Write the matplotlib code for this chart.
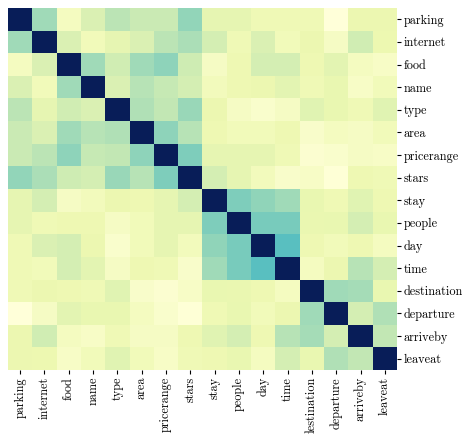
import numpy as np
import matplotlib
matplotlib.use("Agg")
import matplotlib.pyplot as plt
import seaborn as sns

# slot names (rows and columns share the same order)
slots = ['parking', 'internet', 'food', 'name', 'type', 'area', 'pricerange',
         'stars', 'stay', 'people', 'day', 'time', 'destination', 'departure',
         'arriveby', 'leaveat']

# similarity values (symmetric)
sim = np.array([
    [1.00, 0.32, 0.08, 0.19, 0.27, 0.24, 0.24, 0.34, 0.15, 0.15, 0.11, 0.11, 0.11, 0.00, 0.13, 0.13],
    [0.32, 1.00, 0.19, 0.10, 0.15, 0.19, 0.27, 0.30, 0.21, 0.11, 0.19, 0.10, 0.13, 0.07, 0.22, 0.125],
    [0.08, 0.19, 1.00, 0.32, 0.22, 0.32, 0.35, 0.23, 0.07, 0.12, 0.21, 0.21, 0.12, 0.16, 0.08, 0.06],
    [0.19, 0.10, 0.32, 1.00, 0.19, 0.28, 0.25, 0.21, 0.09, 0.12, 0.13, 0.16, 0.11, 0.14, 0.06, 0.10],
    [0.27, 0.15, 0.22, 0.19, 1.00, 0.29, 0.26, 0.33, 0.13, 0.07, 0.04, 0.07, 0.17, 0.14, 0.11, 0.17],
    [0.24, 0.19, 0.32, 0.28, 0.29, 1.00, 0.35, 0.28, 0.12, 0.10, 0.10, 0.12, 0.05, 0.08, 0.07, 0.10],
    [0.24, 0.27, 0.35, 0.25, 0.26, 0.35, 1.00, 0.375, 0.15, 0.15, 0.15, 0.11, 0.03, 0.04, 0.07, 0.06],
    [0.34, 0.30, 0.23, 0.21, 0.33, 0.28, 0.375, 1.00, 0.21, 0.15, 0.09, 0.05, 0.06, 0.01, 0.12, 0.11],
    [0.15, 0.21, 0.07, 0.09, 0.13, 0.12, 0.15, 0.21, 1.00, 0.375, 0.345, 0.32, 0.14, 0.115, 0.17, 0.12],
    [0.15, 0.11, 0.12, 0.12, 0.07, 0.10, 0.15, 0.15, 0.375, 1.00, 0.39, 0.39, 0.135, 0.14, 0.21, 0.14],
    [0.11, 0.19, 0.21, 0.13, 0.04, 0.10, 0.15, 0.09, 0.345, 0.39, 1.00, 0.45, 0.12, 0.10, 0.12, 0.08],
    [0.11, 0.10, 0.21, 0.16, 0.07, 0.12, 0.11, 0.05, 0.32, 0.39, 0.45, 1.00, 0.08, 0.13, 0.28, 0.21],
    [0.11, 0.13, 0.12, 0.11, 0.17, 0.05, 0.03, 0.06, 0.14, 0.135, 0.12, 0.08, 1.00, 0.32, 0.31, 0.14],
    [0.00, 0.07, 0.16, 0.14, 0.14, 0.08, 0.04, 0.01, 0.115, 0.14, 0.10, 0.13, 0.32, 1.00, 0.21, 0.29],
    [0.13, 0.22, 0.08, 0.06, 0.11, 0.07, 0.07, 0.12, 0.17, 0.21, 0.12, 0.28, 0.31, 0.21, 1.00, 0.26],
    [0.13, 0.125, 0.06, 0.10, 0.17, 0.10, 0.06, 0.11, 0.12, 0.14, 0.08, 0.21, 0.14, 0.29, 0.26, 1.00],
])

plt.rcParams['font.family'] = 'serif'
plt.rcParams['font.serif'] = ['cmr10', 'DejaVu Serif']
plt.rcParams['axes.formatter.use_mathtext'] = True

fig = plt.figure(figsize=(4.62, 4.34), dpi=100)
ax = fig.add_axes([8/462, 1 - 370/434, 389/462, 362/434])
sns.heatmap(sim, cmap='YlGnBu', vmin=0, vmax=1, cbar=False,
            xticklabels=slots, yticklabels=slots, ax=ax)
ax.yaxis.tick_right()
ax.tick_params(axis='both', length=3, width=0.8, labelsize=8.8, pad=2)
plt.setp(ax.get_yticklabels(), rotation=0)
plt.setp(ax.get_xticklabels(), rotation=90)

fig.savefig('out.png', dpi=100)
